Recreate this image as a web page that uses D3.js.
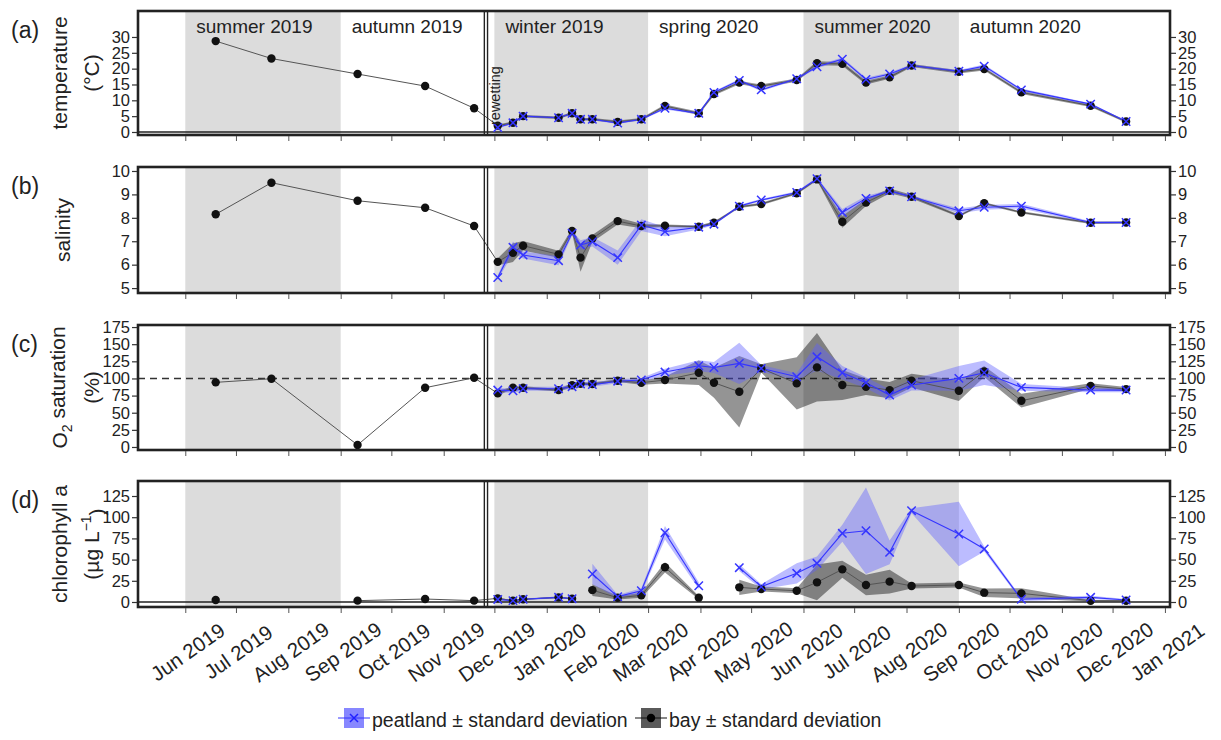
<!DOCTYPE html>
<html>
<head>
<meta charset="utf-8">
<script src="https://cdn.jsdelivr.net/npm/d3@7"></script>
<style>
  body { margin: 0; background: #fff; }
  svg text { font-family: "Liberation Sans", Arial, sans-serif; fill: #222; }
</style>
</head>
<body>
<svg id="chart" width="1221" height="740"></svg>
<script>
// Sampling campaigns (first five before the rewetting: bay only)
const sampleDates = [
  "2019-06-19", "2019-07-22", "2019-09-11", "2019-10-21", "2019-11-19",
  "2019-12-03", "2019-12-12", "2019-12-18", "2020-01-08", "2020-01-16",
  "2020-01-21", "2020-01-28", "2020-02-12", "2020-02-26", "2020-03-11",
  "2020-03-31", "2020-04-09", "2020-04-24", "2020-05-07", "2020-05-28",
  "2020-06-09", "2020-06-24", "2020-07-08", "2020-07-22", "2020-08-04",
  "2020-09-01", "2020-09-16", "2020-10-08", "2020-11-18", "2020-12-09"
];
const rewettingDate = "2019-11-26";

// (a) water temperature, °C
const bayTemperature = [28.7, 23.2, 18.3, 14.5, 7.5, 2.0, 2.9, 5.0, 4.5, 5.9, 4.0, 4.0, 3.2, 4.0, 8.2, 5.9, 12.0, 15.6, 14.5, 16.4, 21.7, 21.5, 15.6, 17.3, 21.0, 19.0, 19.9, 12.5, 8.3, 3.3];
const bayTemperatureSd = [null, null, null, null, null, 0.4, 0.4, 0.4, 0.4, 0.4, 0.4, 0.4, 0.4, 0.4, 0.5, 0.5, 0.5, 0.5, 0.5, 0.5, 0.6, 0.6, 0.6, 0.5, 0.5, 0.5, 0.5, 0.5, 0.4, 0.4];
const peatTemperature = [null, null, null, null, null, 1.4, 2.9, 5.0, 4.5, 5.9, 4.0, 4.0, 2.8, 4.0, 7.5, 5.9, 12.5, 16.3, 13.3, 16.8, 20.6, 23.0, 16.6, 18.3, 21.0, 19.2, 20.8, 13.3, 8.8, 3.3];
const peatTemperatureSd = [null, null, null, null, null, 0.3, 0.3, 0.3, 0.3, 0.3, 0.3, 0.3, 0.3, 0.3, 0.4, 0.4, 0.4, 0.4, 0.4, 0.4, 0.5, 0.5, 0.5, 0.5, 0.4, 0.4, 0.5, 0.4, 0.3, 0.3];

// (b) salinity
const baySalinity = [8.15, 9.5, 8.73, 8.43, 7.65, 6.12, 6.51, 6.81, 6.44, 7.44, 6.3, 7.12, 7.86, 7.65, 7.66, 7.62, 7.79, 8.47, 8.59, 9.05, 9.64, 7.83, 8.65, 9.15, 8.9, 8.08, 8.62, 8.23, 7.79, 7.8];
const baySalinitySd = [null, null, null, null, null, 0.15, 0.4, 0.2, 0.15, 0.1, 0.6, 0.15, 0.15, 0.1, 0.05, 0.05, 0.05, 0.05, 0.05, 0.05, 0.05, 0.25, 0.15, 0.1, 0.08, 0.05, 0.05, 0.05, 0.05, 0.05];
const peatSalinity = [null, null, null, null, null, 5.45, 6.74, 6.41, 6.17, 7.34, 6.84, 6.98, 6.3, 7.69, 7.41, 7.6, 7.73, 8.5, 8.76, 9.08, 9.67, 8.23, 8.83, 9.15, 8.9, 8.3, 8.45, 8.5, 7.8, 7.8];
const peatSalinitySd = [null, null, null, null, null, 0.1, 0.25, 0.15, 0.2, 0.1, 0.2, 0.2, 0.3, 0.25, 0.2, 0.1, 0.05, 0.05, 0.05, 0.05, 0.05, 0.15, 0.1, 0.05, 0.05, 0.1, 0.1, 0.1, 0.05, 0.05];

// (c) O2 saturation, %
const bayOxygen = [94.3, 99.6, 2.9, 86.5, 101, 78.2, 86.5, 86.5, 83, 90, 92.3, 92, 96.7, 93.8, 97.7, 108.3, 93.8, 80.6, 114.7, 92.8, 116.2, 90.4, 88, 83, 96.7, 82, 110.3, 67.5, 89, 84.5];
const bayOxygenSd = [null, null, null, null, null, 3, 2, 2, 2, 3, 2, 2, 2, 3, 5, 18, 22, 52, 6, 38, 50, 22, 12, 12, 10, 15, 8, 10, 4, 3];
const peatOxygen = [null, null, null, null, null, 83, 82, 85, 85, 88, 92, 91, 96, 97.7, 109.3, 118.5, 116, 122, 114.7, 102.5, 131.6, 108.3, 93.8, 75.8, 90.4, 100.1, 108.3, 87, 83, 83];
const peatOxygenSd = [null, null, null, null, null, 3, 3, 3, 3, 3, 3, 3, 3, 3, 5, 8, 8, 30, 5, 5, 20, 10, 8, 8, 8, 18, 18, 5, 3, 3];

// (d) chlorophyll a, µg L-1
const bayChlorophyll = [2.4, null, 1.6, 3.5, 1.6, 4.3, 1.6, 3.2, 5.5, 3.9, null, 14, 5, 7.9, 40.9, 5.1, null, 17.3, 15.3, 13.3, 23.2, 38.5, 20, 24, 18.9, 20, 11, 10.2, 1.5, 1.5];
const bayChlorophyllSd = [null, null, null, null, null, 1, 0.5, 0.5, 1, 0.5, null, 7, 2, 3, 6, 2, null, 9, 3, 3, 21, 10, 12, 14, 3, 3, 5, 6, 1, 1];
const peatChlorophyll = [null, null, null, null, null, 3, 1.6, 3.2, 5.5, 3.9, null, 33, 6.3, 13.3, 81.7, 19.2, null, 40.5, 18, 33.8, 45.6, 81, 84, 58.6, 107.7, 80.2, 62.5, 3.2, 5.5, 2.4];
const peatChlorophyllSd = [null, null, null, null, null, 1, 1, 1, 1, 1, null, 12, 2, 3, 8, 4, null, 4, 3, 12, 8, 10, 51, 14, 3, 38, 3, 2, 2, 1];

// Meteorological seasons
const seasonNames = ["summer 2019", "autumn 2019", "winter 2019", "spring 2020", "summer 2020", "autumn 2020"];
const seasonStarts = ["2019-06-01", "2019-09-01", "2019-12-01", "2020-03-01", "2020-06-01", "2020-09-01"];
const seasonEnds = ["2019-09-01", "2019-12-01", "2020-03-01", "2020-06-01", "2020-09-01", "2020-12-01"];
const seasonShaded = [true, false, true, false, true, false];

// Axis ticks
const temperatureTicks = [0, 5, 10, 15, 20, 25, 30];
const salinityTicks = [5, 6, 7, 8, 9, 10];
const oxygenTicks = [0, 25, 50, 75, 100, 125, 150, 175];
const chlorophyllTicks = [0, 25, 50, 75, 100, 125];
const monthTicks = ["2019-06-01", "2019-07-01", "2019-08-01", "2019-09-01", "2019-10-01", "2019-11-01", "2019-12-01",
  "2020-01-01", "2020-02-01", "2020-03-01", "2020-04-01", "2020-05-01", "2020-06-01", "2020-07-01", "2020-08-01",
  "2020-09-01", "2020-10-01", "2020-11-01", "2020-12-01", "2021-01-01"];

const parse = d3.utcParse("%Y-%m-%d");
const dates = sampleDates.map(parse);

const svg = d3.select("#chart");
const left = 138, right = 1170;
const x = d3.scaleUtc()
  .domain([parse("2019-05-04"), parse("2021-01-04")])
  .range([left, right]);

const panels = [
  { tag: "(a)", title: ["temperature", "(°C)"], top: 11, bottom: 135, domain: [-0.95, 38.2], ticks: temperatureTicks,
    bay: bayTemperature, baySd: bayTemperatureSd, peat: peatTemperature, peatSd: peatTemperatureSd, zeroLine: true },
  { tag: "(b)", title: ["salinity"], top: 167, bottom: 293, domain: [4.79, 10.17], ticks: salinityTicks,
    bay: baySalinity, baySd: baySalinitySd, peat: peatSalinity, peatSd: peatSalinitySd },
  { tag: "(c)", title: ["O2 saturation", "(%)"], top: 325, bottom: 450, domain: [-4.4, 178], ticks: oxygenTicks,
    bay: bayOxygen, baySd: bayOxygenSd, peat: peatOxygen, peatSd: peatOxygenSd, refLine: 100 },
  { tag: "(d)", title: ["chlorophyll a", "(µg L-1)"], top: 481, bottom: 607, domain: [-5.9, 142.7], ticks: chlorophyllTicks,
    bay: bayChlorophyll, baySd: bayChlorophyllSd, peat: peatChlorophyll, peatSd: peatChlorophyllSd, zeroLine: true, dateLabels: true }
];

const peatColor = "#3535ff";
const peatBand = "rgba(95,95,255,0.42)";
const bayColor = "#111";
const bayBand = "rgba(0,0,0,0.42)";
const rewetX = x(parse(rewettingDate));
const fontFamily = "'Liberation Sans', Arial, sans-serif";

panels.forEach((p, i) => {
  const y = d3.scaleLinear().domain(p.domain).range([p.bottom, p.top]);
  const g = svg.append("g");
  const clipId = "clip" + i;
  svg.append("clipPath").attr("id", clipId)
    .append("rect").attr("x", left).attr("y", p.top).attr("width", right - left).attr("height", p.bottom - p.top);
  const plot = g.append("g").attr("clip-path", `url(#${clipId})`);

  // season shading
  seasonNames.forEach((s, k) => {
    if (!seasonShaded[k]) return;
    const x0 = x(parse(seasonStarts[k])), x1 = x(parse(seasonEnds[k]));
    plot.append("rect").attr("x", x0).attr("y", p.top).attr("width", x1 - x0).attr("height", p.bottom - p.top)
      .attr("fill", "#dcdcdc");
  });

  if (i === 0) {
    seasonNames.forEach((s, k) => {
      g.append("text").attr("x", x(parse(seasonStarts[k])) + 11).attr("y", 33)
        .attr("font-size", 19).text(s);
    });
  }

  if (p.refLine != null) {
    plot.append("line").attr("x1", left).attr("x2", right).attr("y1", y(p.refLine)).attr("y2", y(p.refLine))
      .attr("stroke", "#333").attr("stroke-width", 1.6).attr("stroke-dasharray", "7,5");
  }
  if (p.zeroLine) {
    plot.append("line").attr("x1", left).attr("x2", right).attr("y1", y(0)).attr("y2", y(0))
      .attr("stroke", "#222").attr("stroke-width", 1.3);
  }

  const rows = dates.map((d, k) => ({ d, bay: p.bay[k], baySd: p.baySd[k], peat: p.peat[k], peatSd: p.peatSd[k] }));

  const band = (key, sdKey) => d3.area()
    .defined(r => r[key] != null && r[sdKey] != null)
    .x(r => x(r.d)).y0(r => y(r[key] - r[sdKey])).y1(r => y(r[key] + r[sdKey]));
  const line = key => d3.line().defined(r => r[key] != null).x(r => x(r.d)).y(r => y(r[key]));

  plot.append("path").attr("d", band("bay", "baySd")(rows)).attr("fill", bayBand);
  plot.append("path").attr("d", band("peat", "peatSd")(rows)).attr("fill", peatBand);
  plot.append("path").attr("d", line("bay")(rows)).attr("fill", "none").attr("stroke", "#555").attr("stroke-width", 1);
  plot.append("path").attr("d", line("peat")(rows)).attr("fill", "none").attr("stroke", peatColor).attr("stroke-width", 1.1);

  plot.selectAll(".bayDot").data(rows.filter(r => r.bay != null)).join("circle")
    .attr("cx", r => x(r.d)).attr("cy", r => y(r.bay)).attr("r", 4.2).attr("fill", bayColor);
  const s = 4.2;
  plot.selectAll(".peatMark").data(rows.filter(r => r.peat != null)).join("path")
    .attr("d", r => {
      const cx = x(r.d), cy = y(r.peat);
      return `M${cx - s},${cy - s}L${cx + s},${cy + s}M${cx - s},${cy + s}L${cx + s},${cy - s}`;
    })
    .attr("stroke", peatColor).attr("stroke-width", 1.5).attr("fill", "none");

  // rewetting marker
  [-1.6, 1.6].forEach(off => {
    g.append("line").attr("x1", rewetX + off).attr("x2", rewetX + off).attr("y1", p.top).attr("y2", p.bottom)
      .attr("stroke", "#222").attr("stroke-width", 1.4);
  });
  if (i === 0) {
    g.append("text").attr("transform", `translate(${rewetX + 14},${p.bottom - 10}) rotate(-90)`)
      .attr("font-size", 14.5).text("rewetting");
  }

  // frame
  g.append("rect").attr("x", left).attr("y", p.top).attr("width", right - left).attr("height", p.bottom - p.top)
    .attr("fill", "none").attr("stroke", "#222").attr("stroke-width", 2.6);

  // y axes (left and right)
  const fmt = d3.format("d");
  const yl = g.append("g").attr("transform", `translate(${left - 1},0)`)
    .call(d3.axisLeft(y).tickValues(p.ticks).tickFormat(fmt).tickSize(5).tickPadding(2));
  const yr = g.append("g").attr("transform", `translate(${right + 1},0)`)
    .call(d3.axisRight(y).tickValues(p.ticks).tickFormat(fmt).tickSize(5).tickPadding(2));
  [yl, yr].forEach(ax => {
    ax.select(".domain").remove();
    ax.selectAll(".tick line").attr("stroke", "#333").attr("stroke-width", 1.2);
    ax.selectAll(".tick text").attr("font-size", 16.5).attr("fill", "#222").style("font-family", fontFamily);
  });

  // x axis ticks (labels on the bottom panel only)
  const xa = g.append("g").attr("transform", `translate(0,${p.bottom + 1})`)
    .call(d3.axisBottom(x).tickValues(monthTicks.map(parse)).tickSize(5)
      .tickFormat(p.dateLabels ? d3.utcFormat("%b %Y") : ""));
  xa.select(".domain").remove();
  xa.selectAll(".tick line").attr("stroke", "#555").attr("stroke-width", 1);
  if (p.dateLabels) {
    xa.selectAll(".tick text")
      .attr("font-size", 20.5).attr("fill", "#222").style("font-family", fontFamily)
      .attr("text-anchor", "middle").attr("y", null).attr("dy", "0.35em")
      .attr("transform", "translate(2,44) rotate(-35)");
  }

  // panel tag and y title
  g.append("text").attr("x", 11).attr("y", p.top + 27).attr("font-size", 23).text(p.tag);
  const cy = (p.top + p.bottom) / 2;
  const titleXs = p.title.length === 2 ? [60, 92] : [63];
  p.title.forEach((t, k) => {
    const tx = g.append("text").attr("transform", `translate(${titleXs[k]},${cy}) rotate(-90)`)
      .attr("text-anchor", "middle").attr("dy", "0.35em").attr("font-size", 21);
    if (t === "O2 saturation") {
      tx.append("tspan").text("O");
      tx.append("tspan").attr("dy", "0.3em").attr("font-size", 14).text("2");
      tx.append("tspan").attr("dy", "-0.3em").text(" saturation");
    } else if (t === "(µg L-1)") {
      tx.append("tspan").text("(µg L");
      tx.append("tspan").attr("dy", "-0.6em").attr("font-size", 14).text("−1");
      tx.append("tspan").attr("dy", "0.6em").text(")");
    } else {
      tx.text(t);
    }
  });
});

// legend
const legend = svg.append("g");
legend.append("rect").attr("x", 344).attr("y", 708).attr("width", 20).attr("height", 20).attr("fill", "rgba(95,95,255,0.75)");
legend.append("path").attr("d", "M338,718H370").attr("stroke", peatColor).attr("stroke-width", 1);
legend.append("path").attr("d", "M350,714L358,722M350,722L358,714").attr("stroke", "#2020ff").attr("stroke-width", 1.5);
legend.append("text").attr("x", 372).attr("y", 727).attr("font-size", 19.5).text("peatland ± standard deviation");
legend.append("rect").attr("x", 641).attr("y", 708).attr("width", 20).attr("height", 20).attr("fill", "#5a5a5a");
legend.append("path").attr("d", "M635,718H667").attr("stroke", "#111").attr("stroke-width", 1);
legend.append("circle").attr("cx", 651).attr("cy", 718).attr("r", 4.2).attr("fill", "#000");
legend.append("text").attr("x", 669).attr("y", 727).attr("font-size", 19.5).text("bay ± standard deviation");
</script>
</body>
</html>
